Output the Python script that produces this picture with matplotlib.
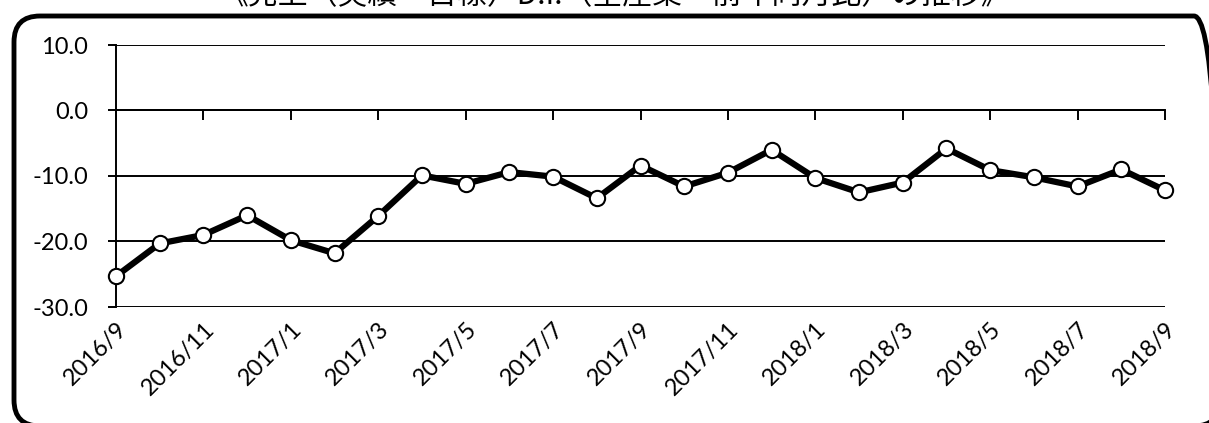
import matplotlib.pyplot as plt
from matplotlib.patches import FancyBboxPatch

plt.rcParams['font.family'] = ['Lato', 'Noto Sans CJK JP', 'DejaVu Sans']

# monthly data, 2016/9 - 2018/9
months = ['2016/9', '2016/10', '2016/11', '2016/12', '2017/1', '2017/2', '2017/3',
          '2017/4', '2017/5', '2017/6', '2017/7', '2017/8', '2017/9', '2017/10',
          '2017/11', '2017/12', '2018/1', '2018/2', '2018/3', '2018/4', '2018/5',
          '2018/6', '2018/7', '2018/8', '2018/9']
di_values = [-25.3, -20.3, -19.0, -16.0, -19.8, -21.8, -16.1, -9.9, -11.2, -9.4,
             -10.1, -13.4, -8.4, -11.6, -9.5, -6.0, -10.3, -12.5, -11.0, -5.8,
             -9.1, -10.2, -11.6, -9.0, -12.2]
y_ticks = [10, 0, -10, -20, -30]
title_text = '《売上（実績－目標）D.I.（全産業・前年同月比）の推移》'

W, H = 1209, 423
fig = plt.figure(figsize=(W / 100, H / 100), dpi=100)

# background axes in pixel units (y up) for the rounded frame
bg = fig.add_axes([0, 0, 1, 1])
bg.set_xlim(0, W)
bg.set_ylim(0, H)
bg.axis('off')
frame = FancyBboxPatch((14, H - 426), 1206, 426 - 16,
                       boxstyle='round,pad=0,rounding_size=26',
                       fill=False, edgecolor='black', linewidth=3.5,
                       clip_on=False)
bg.add_patch(frame)

# title (mostly cut off at the top in the original)
fig.text(0.508, 1 + 4 / H, title_text, ha='center', va='center',
         fontsize=21.5, family=['Noto Sans CJK JP', 'DejaVu Sans'])

ax = fig.add_axes([116 / W, 1 - 307 / H, (1165 - 116) / W, (307 - 45) / H])
ax.patch.set_alpha(0)
x = list(range(len(months)))

ax.plot(x, di_values, color='black', linewidth=4.5, marker='o',
        markersize=11, markerfacecolor='white', markeredgecolor='black',
        markeredgewidth=1.5, zorder=5, clip_on=False)

ax.set_xlim(0, len(months) - 1)
ax.set_ylim(-30, 10)
ax.set_yticks(y_ticks)
ax.set_yticklabels(['%.1f' % v for v in y_ticks], fontsize=17)
ax.tick_params(axis='y', direction='out', length=6, width=1.4, pad=14)
ax.yaxis.grid(True, color='black', linewidth=1.4)
ax.set_axisbelow(True)

for s in ['top', 'right']:
    ax.spines[s].set_visible(False)
ax.spines['left'].set_linewidth(1.4)

# category axis crosses at 0 with tick marks every 2 months
ax.spines['bottom'].set_position(('data', 0))
ax.spines['bottom'].set_linewidth(1.4)
ax.set_xticks(x[::2])
ax.tick_params(axis='x', direction='out', length=7, width=1.4, labelbottom=False)

# labels sit at the bottom of the plot
sec = ax.secondary_xaxis('bottom')
sec.set_xticks(x[::2])
sec.set_xticklabels(months[::2], rotation=45, ha='right', va='top',
                    rotation_mode='anchor', fontsize=17)
sec.tick_params(length=0, pad=8)
sec.spines['bottom'].set_visible(False)

fig.savefig('out.png', dpi=100)
